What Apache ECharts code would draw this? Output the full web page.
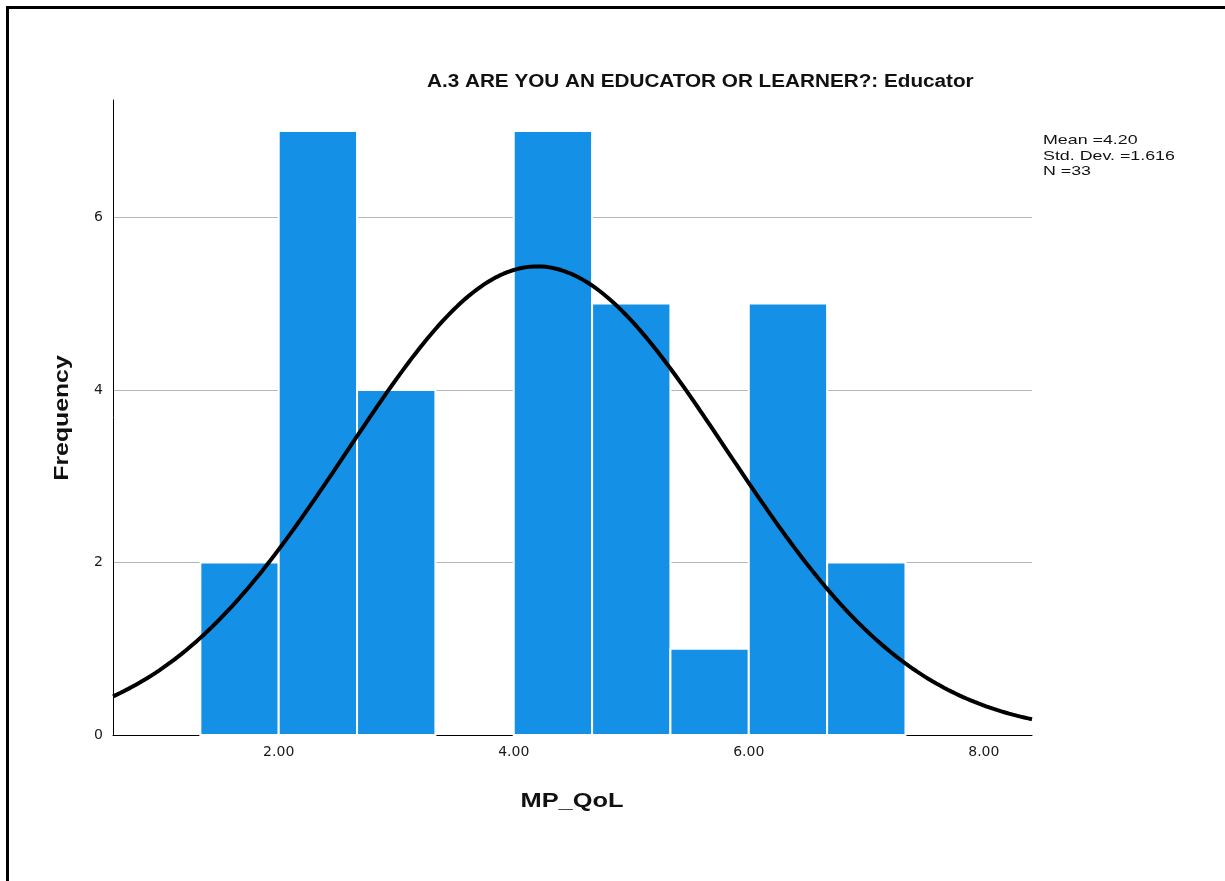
<!DOCTYPE html>
<html>
<head>
<meta charset="utf-8">
<title>MP_QoL histogram</title>
<script src="https://cdn.jsdelivr.net/npm/echarts@6/dist/echarts.min.js"></script>
<style>
  html, body { margin: 0; padding: 0; background: #fff; }
  #chart { width: 1225px; height: 881px; }
</style>
</head>
<body>
<div id="chart"></div>
<script>
// Histogram bins (edges) and their counts
const binEdges = [1.3333, 2.0, 2.6667, 3.3333, 4.0, 4.6667, 5.3333, 6.0, 6.6667, 7.3333];
const counts = [2, 7, 4, 0, 7, 5, 1, 5, 2];

// Summary statistics shown in the side note
const mean = 4.20;
const stdDev = 1.616;
const n = 33;

// Axis tick labels
const xTicks = [2, 4, 6, 8];
const yTicks = [0, 2, 4, 6];

const xMin = 0.59, xMax = 8.41;
const yMax = 7.36;

const bars = counts.map((c, i) => [binEdges[i], binEdges[i + 1], c]);

// Fitted normal curve scaled to frequency (n * bin width * density)
const binWidth = binEdges[1] - binEdges[0];
const curve = [];
const steps = 240;
for (let i = 0; i <= steps; i++) {
  const x = xMin + (xMax - xMin) * i / steps;
  const z = (x - mean) / stdDev;
  const y = n * binWidth * Math.exp(-0.5 * z * z) / (stdDev * Math.sqrt(2 * Math.PI));
  curve.push([x, y]);
}

const font = '"Liberation Sans", Arial, sans-serif';
const tickFont = '"DejaVu Sans", sans-serif';
const chart = echarts.init(document.getElementById('chart'), null, { renderer: 'canvas' });

chart.setOption({
  animation: false,
  backgroundColor: '#ffffff',
  grid: { left: 113, right: 193, top: 100, bottom: 146, containLabel: false },
  xAxis: {
    type: 'value',
    min: xMin,
    max: xMax,
    axisLine: { show: true, lineStyle: { color: '#000', width: 1 } },
    axisTick: { show: false, customValues: xTicks },
    splitLine: { show: false },
    axisLabel: {
      customValues: xTicks,
      formatter: v => v.toFixed(2),
      color: '#1a1a1a',
      fontFamily: tickFont,
      fontSize: 14,
      margin: 10
    }
  },
  yAxis: {
    type: 'value',
    min: 0,
    max: yMax,
    axisLine: { show: true, lineStyle: { color: '#000', width: 1 } },
    axisTick: { show: false, customValues: yTicks },
    axisLabel: {
      customValues: yTicks,
      color: '#1a1a1a',
      fontFamily: tickFont,
      fontSize: 14,
      margin: 10
    },
    splitLine: {
      show: true,
      lineStyle: { color: '#b5b5b5', width: 1 }
    }
  },
  series: [
    {
      type: 'custom',
      data: bars,
      z: 2,
      renderItem: function (params, api) {
        const p0 = api.coord([api.value(0), 0]);
        const p1 = api.coord([api.value(1), api.value(2)]);
        if (api.value(2) <= 0) return null;
        return {
          type: 'rect',
          shape: { x: p0[0], y: p1[1], width: p1[0] - p0[0], height: p0[1] - p1[1] },
          style: { fill: '#1490e6', stroke: '#ffffff', lineWidth: 2 }
        };
      }
    },
    {
      type: 'line',
      data: curve,
      showSymbol: false,
      symbol: 'none',
      z: 3,
      lineStyle: { color: '#000', width: 4 }
    }
  ],
  graphic: [
    // frame lines
    { type: 'rect', shape: { x: 6, y: 6, width: 1219, height: 3 }, style: { fill: '#000' }, silent: true },
    { type: 'rect', shape: { x: 6, y: 6, width: 3, height: 875 }, style: { fill: '#000' }, silent: true },
    {
      type: 'text', x: 427, y: 82, scaleX: 1.15,
      style: { text: 'A.3 ARE YOU AN EDUCATOR OR LEARNER?: Educator', font: 'bold 18px ' + font, fill: '#111', verticalAlign: 'middle' }
    },
    {
      type: 'text', x: 1043, y: 133, scaleX: 1.37,
      style: {
        text: 'Mean =' + mean.toFixed(2) + '\nStd. Dev. =' + stdDev.toFixed(3) + '\nN =' + n,
        font: '13px ' + font, fill: '#111', lineHeight: 15.5
      }
    },
    {
      type: 'text', x: 62, y: 418, rotation: Math.PI / 2, scaleX: 1.18,
      style: { text: 'Frequency', font: 'bold 21px ' + font, fill: '#111', align: 'center', verticalAlign: 'middle' }
    },
    {
      type: 'text', x: 572, y: 801, scaleX: 1.21,
      style: { text: 'MP_QoL', font: 'bold 21px ' + font, fill: '#111', align: 'center', verticalAlign: 'middle' }
    }
  ]
});
</script>
</body>
</html>
